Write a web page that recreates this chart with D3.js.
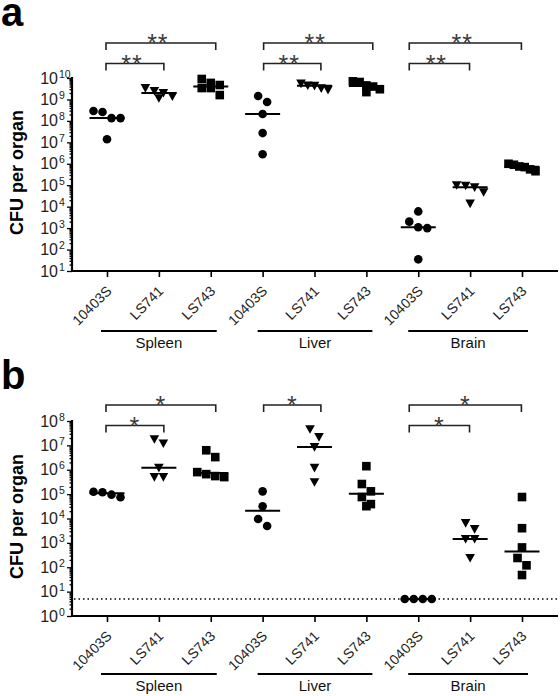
<!DOCTYPE html>
<html><head><meta charset="utf-8">
<script src="https://cdn.jsdelivr.net/npm/d3@7"></script>
<style>body{margin:0;background:#fff}svg{display:block}text{font-family:"Liberation Sans",Arial,sans-serif}</style>
</head><body>
<svg id="c" width="560" height="696"></svg>
<script>
// ---------- data ----------
const organs = ["Spleen", "Liver", "Brain"];
const strains = ["10403S", "LS741", "LS743"];
const markers = ["circle", "triangle", "square"];

// panel a (CFU per organ), each organ: [10403S, LS741, LS743]
const spleenA = [[2.9e8, 2.6e8, 1.35e8, 1.35e8, 1.4e7], [3.4e9, 2.5e9, 2.0e9, 1.4e9, 1.15e9], [9e9, 5.9e9, 4.7e9, 3.4e9, 3.4e9, 1.6e9]];
const liverA = [[1.45e9, 7.6e8, 2.1e8, 2.7e7, 2.8e6], [5.5e9, 4.5e9, 4.3e9, 3.3e9, 2.8e9], [7e9, 6.5e9, 4.5e9, 4e9, 3e9, 2.2e9]];
const brainA = [[6e3, 2.0e3, 1.1e3, 1.0e3, 35], [1.0e5, 9.5e4, 8e4, 4.7e4, 1.4e4], [1e6, 9e5, 7.5e5, 7e5, 5.5e5, 4.5e5]];

// panel b
const spleenB = [[1.25e5, 1.2e5, 9.5e4, 7.5e4], [1.8e7, 1.2e7, 1.2e6, 5e5, 5e5], [6.3e6, 3.3e6, 8e5, 6.6e5, 5.5e5, 5e5]];
const liverB = [[1.3e5, 3.2e4, 9.5e3, 4.9e3], [4.6e7, 2.2e7, 8.5e6, 1.2e6, 3.1e5], [1.4e6, 2.6e5, 1.3e5, 7.6e4, 3.9e4, 3.2e4]];
const brainB = [[5, 5, 5, 5], [6.5e3, 3.7e3, 1.45e3, 1.45e3, 2.4e2], [7.6e4, 4e3, 6.5e2, 2.4e2, 1.2e2, 48]];
const detectionLimitB = 5;

// y-axis decades
const decadesA = [1, 2, 3, 4, 5, 6, 7, 8, 9, 10];
const decadesB = [0, 1, 2, 3, 4, 5, 6, 7, 8];

// significance brackets: [organ, fromStrain, toStrain, label, level]
const sigA = [["Spleen", "10403S", "LS743", "**", 2], ["Spleen", "10403S", "LS741", "**", 1],
              ["Liver", "10403S", "LS743", "**", 2], ["Liver", "10403S", "LS741", "**", 1],
              ["Brain", "10403S", "LS743", "**", 2], ["Brain", "10403S", "LS741", "**", 1]];
const sigB = [["Spleen", "10403S", "LS743", "*", 2], ["Spleen", "10403S", "LS741", "*", 1],
              ["Liver", "10403S", "LS741", "*", 2],
              ["Brain", "10403S", "LS743", "*", 2], ["Brain", "10403S", "LS741", "*", 1]];

// ---------- drawing ----------
const svg = d3.select("#c");
const keys = [];
organs.forEach(o => strains.forEach(s => keys.push(o + "|" + s)));
const x = d3.scalePoint().domain(keys).range([107, 522]);
const axisLeftX = 72, axisRightX = 558;
const groupShift = {Spleen: 0, Liver: 2, Brain: -8};

function panel(opt) {
  const g = svg.append("g");
  const y = d3.scaleLog().domain(opt.domain).range([opt.yBot, opt.yTop]);

  // minor + major ticks
  const tickVals = [];
  opt.decades.forEach((d, i) => {
    tickVals.push({v: Math.pow(10, d), major: true, d});
    if (i < opt.decades.length - 1) for (let m = 2; m <= 9; m++) tickVals.push({v: m * Math.pow(10, d), major: false});
  });
  const yAxis = g.append("g").attr("transform", `translate(${axisLeftX},0)`)
    .call(d3.axisLeft(y).tickValues(tickVals.map(t => t.v)).tickSize(5).tickSizeOuter(0).tickFormat(""));
  yAxis.select(".domain").attr("stroke", "#000").attr("stroke-width", 2.2)
    .attr("d", `M0,${opt.yTop - 1}V${opt.yBot + 1}`);
  yAxis.selectAll(".tick line").attr("stroke", "#000").attr("stroke-width", 1.3)
    .attr("x2", (d, i) => tickVals[i].major ? -5 : -2.5);
  tickVals.filter(t => t.major).forEach(t => {
    g.append("text").attr("x", 58).attr("y", y(t.v) + 5.5)
      .attr("text-anchor", "end").style("font-size", "16px").attr("fill", "#222").text("10");
    g.append("text").attr("x", 59).attr("y", y(t.v) - 0.5)
      .style("font-size", "10.5px").attr("fill", "#222").text(t.d);
  });

  // x axis
  const xAxis = g.append("g").attr("transform", `translate(0,${opt.yBot})`)
    .call(d3.axisBottom(x).tickSize(6).tickSizeOuter(0).tickFormat(k => k.split("|")[1]));
  xAxis.select(".domain").attr("stroke", "#000").attr("stroke-width", 2.2)
    .attr("d", `M${axisLeftX - 1},0H${axisRightX}`);
  xAxis.selectAll(".tick line").attr("stroke", "#000").attr("stroke-width", 1.6);
  xAxis.selectAll(".tick text").attr("fill", "#222").style("font-size", "14px")
    .attr("text-anchor", "end").attr("x", 0).attr("y", 0).attr("dy", 0)
    .attr("transform", "translate(5,21) rotate(-45)");

  // group lines and labels
  organs.forEach(o => {
    const x0 = x(o + "|10403S") - 6 + groupShift[o] * 0.5, x1 = x(o + "|LS743") + 6;
    g.append("line").attr("x1", x0).attr("x2", x1).attr("y1", opt.groupY).attr("y2", opt.groupY)
      .attr("stroke", "#000").attr("stroke-width", 2);
    g.append("text").attr("x", (x0 + x1) / 2).attr("y", opt.groupY + 17).attr("text-anchor", "middle")
      .style("font-size", "15px").attr("fill", "#111").text(o);
  });

  // detection limit
  if (opt.limit) {
    g.append("line").attr("x1", axisLeftX + 2).attr("x2", axisRightX).attr("y1", y(opt.limit)).attr("y2", y(opt.limit))
      .attr("stroke", "#000").attr("stroke-width", 1.5).attr("stroke-dasharray", "1.5,3");
  }

  // points
  const rowThresh = 8.5;
  opt.data.forEach((orgVals, oi) => {
    orgVals.forEach((vals, si) => {
      const key = organs[oi] + "|" + strains[si];
      const cx = x(key);
      const pts = vals.map(v => ({v, py: y(v)})).sort((a, b) => a.py - b.py);
      // arrange overlapping points in horizontal rows
      let i = 0;
      while (i < pts.length) {
        let j = i;
        while (j + 1 < pts.length && pts[j + 1].py - pts[i].py < rowThresh) j++;
        const n = j - i + 1;
        const sp = n > 1 ? Math.min(9, 27 / (n - 1)) : 0;
        for (let k = i; k <= j; k++) pts[k].px = cx + (k - i - (n - 1) / 2) * sp;
        i = j + 1;
      }
      const m = markers[si];
      pts.forEach(p => {
        if (m === "circle") g.append("circle").attr("cx", p.px).attr("cy", p.py).attr("r", 4.3).attr("fill", "#000");
        else if (m === "square") g.append("rect").attr("x", p.px - 4.3).attr("y", p.py - 4.3).attr("width", 8.6).attr("height", 8.6).attr("fill", "#000");
        else g.append("path").attr("d", `M${p.px - 4.8},${p.py - 4}L${p.px + 4.8},${p.py - 4}L${p.px},${p.py + 4.6}Z`).attr("fill", "#000");
      });
      const med = d3.median(vals);
      g.append("line").attr("x1", cx - 17.5).attr("x2", cx + 17.5).attr("y1", y(med)).attr("y2", y(med))
        .attr("stroke", "#000").attr("stroke-width", 2);
    });
  });

  // significance brackets
  opt.sig.forEach(([o, a, b, lab, lvl]) => {
    const by = lvl === 2 ? opt.bracketTop : opt.bracketTop + 20.5;
    const x0 = x(o + "|" + a) - 1 + groupShift[o], x1 = x(o + "|" + b) + 5 + groupShift[o] * 0.7;
    g.append("path").attr("d", `M${x0},${by + 7}V${by}H${x1}V${by + 7}`)
      .attr("fill", "none").attr("stroke", "#222").attr("stroke-width", 1.6);
    g.append("text").attr("x", (x0 + x1) / 2 - (lab.length > 1 ? 3 : 0)).attr("y", by + 9)
      .attr("text-anchor", "middle").attr("letter-spacing", "1px")
      .style("font-size", "25px").attr("fill", "#3a3a3a").text(lab);
  });

  // panel letter & y title
  g.append("text").attr("x", 1).attr("y", opt.letterY).style("font-size", "40px").style("font-weight", "bold")
    .attr("fill", "#000").text(opt.letter);
  g.append("text").attr("transform", `translate(23,${(opt.yTop + opt.yBot) / 2 - 2}) rotate(-90)`)
    .attr("text-anchor", "middle").style("font-size", "18px").style("font-weight", "bold").attr("fill", "#000")
    .text("CFU per organ");
}

panel({letter: "a", letterY: 26, domain: [10, 1e10], yTop: 78, yBot: 271, decades: decadesA,
       data: [spleenA, liverA, brainA], sig: sigA, bracketTop: 43, groupY: 331});
panel({letter: "b", letterY: 389, domain: [1, 1e8], yTop: 421, yBot: 616, decades: decadesB,
       data: [spleenB, liverB, brainB], sig: sigB, bracketTop: 405, groupY: 674, limit: detectionLimitB});
</script>
</body></html>
